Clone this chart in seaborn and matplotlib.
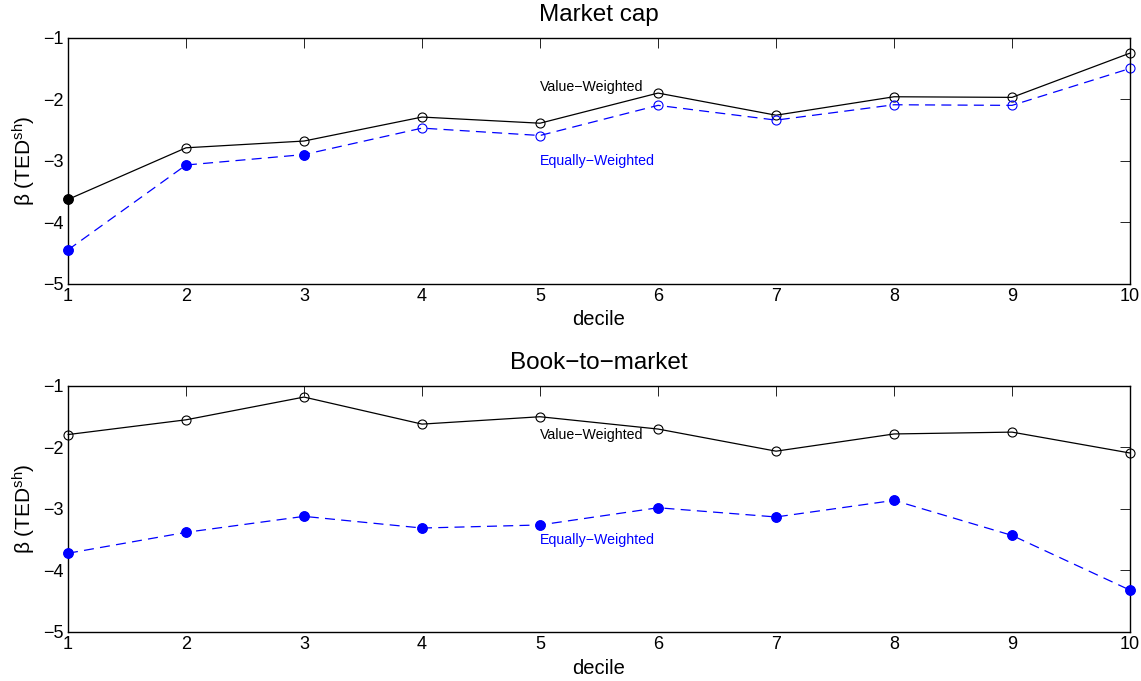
import numpy as np
import pandas as pd
import matplotlib
matplotlib.use("Agg")
import matplotlib.pyplot as plt
import seaborn as sns

deciles = list(range(1, 11))

mc_vw = [-3.63, -2.79, -2.68, -2.29, -2.39, -1.90, -2.26, -1.96, -1.97, -1.25]
mc_ew = [-4.45, -3.07, -2.90, -2.47, -2.59, -2.10, -2.34, -2.09, -2.10, -1.50]
mc_vw_sig = [True, False, False, False, False, False, False, False, False, False]
mc_ew_sig = [True, True, True, False, False, False, False, False, False, False]

bm_vw = [-1.79, -1.55, -1.18, -1.62, -1.50, -1.70, -2.06, -1.78, -1.75, -2.09]
bm_ew = [-3.72, -3.38, -3.12, -3.31, -3.26, -2.98, -3.13, -2.86, -3.43, -4.32]
bm_vw_sig = [False] * 10
bm_ew_sig = [True] * 10

titles = ["Market cap", "Book\u2212to\u2212market"]
vw_label = "Value\u2212Weighted"
ew_label = "Equally\u2212Weighted"
label_pos = [(5, -1.80, -3.00), (5, -1.80, -3.51)]

sns.set_theme(style="white")
plt.rcParams['font.family'] = ['Liberation Sans', 'DejaVu Sans']
plt.rcParams['text.color'] = 'black'
plt.rcParams['axes.labelcolor'] = 'black'
plt.rcParams['mathtext.fontset'] = 'custom'
plt.rcParams['mathtext.rm'] = 'Liberation Sans'
plt.rcParams['mathtext.it'] = 'Liberation Sans'

fig = plt.figure(figsize=(11.41, 6.81), dpi=100)
ax_pos = [[0.0596, 0.5834, 0.9308, 0.3612], [0.0596, 0.0720, 0.9308, 0.3612]]

panels = [(mc_vw, mc_ew, mc_vw_sig, mc_ew_sig), (bm_vw, bm_ew, bm_vw_sig, bm_ew_sig)]

for i, (vw, ew, vws, ews) in enumerate(panels):
    ax = fig.add_axes(ax_pos[i])
    df = pd.DataFrame({"decile": deciles, "vw": vw, "ew": ew, "vws": vws, "ews": ews})
    sns.lineplot(data=df, x="decile", y="vw", ax=ax, color="black", lw=0.9,
                 marker="o", markersize=6.5, markerfacecolor="none",
                 markeredgecolor="black", markeredgewidth=0.8, clip_on=False)
    sns.lineplot(data=df, x="decile", y="ew", ax=ax, color="blue", lw=0.9,
                 marker="o", markersize=6.5, markerfacecolor="none",
                 markeredgecolor="blue", markeredgewidth=0.8, clip_on=False)
    ax.lines[-1].set_linestyle((0, (8, 5)))
    sig_vw = df[df["vws"]]
    sig_ew = df[df["ews"]]
    if len(sig_vw):
        sns.scatterplot(data=sig_vw, x="decile", y="vw", ax=ax, color="black",
                        s=60, edgecolor="black", linewidth=0, zorder=5, clip_on=False)
    if len(sig_ew):
        sns.scatterplot(data=sig_ew, x="decile", y="ew", ax=ax, color="blue",
                        s=60, edgecolor="blue", linewidth=0, zorder=5, clip_on=False)
    xl, yv, ye = label_pos[i]
    ax.text(xl, yv, vw_label, color="black", fontsize=10.2, ha="left", va="center")
    ax.text(xl, ye, ew_label, color="blue", fontsize=10.2, ha="left", va="center")
    ax.set_xlim(1, 10)
    ax.set_ylim(-5, -1)
    ax.set_xticks(deciles)
    ax.set_yticks([-5, -4, -3, -2, -1])
    ax.set_yticklabels(["\u22125", "\u22124", "\u22123", "\u22122", "\u22121"])
    ax.tick_params(direction="in", top=True, right=True, length=7, width=0.6,
                   labelsize=13, pad=3, colors="black")
    for sp in ax.spines.values():
        sp.set_color("black")
        sp.set_linewidth(1.0)
    ax.set_xlabel("decile", fontsize=14.5, labelpad=4, color="black")
    ax.set_ylabel(r"$\mathrm{\beta}$ (TED$^{\mathrm{sh}}$)", fontsize=15, labelpad=4, color="black")
    ax.set_title(titles[i], fontsize=17.5, pad=12, color="black")

fig.savefig("out.png", dpi=100, facecolor="white")
